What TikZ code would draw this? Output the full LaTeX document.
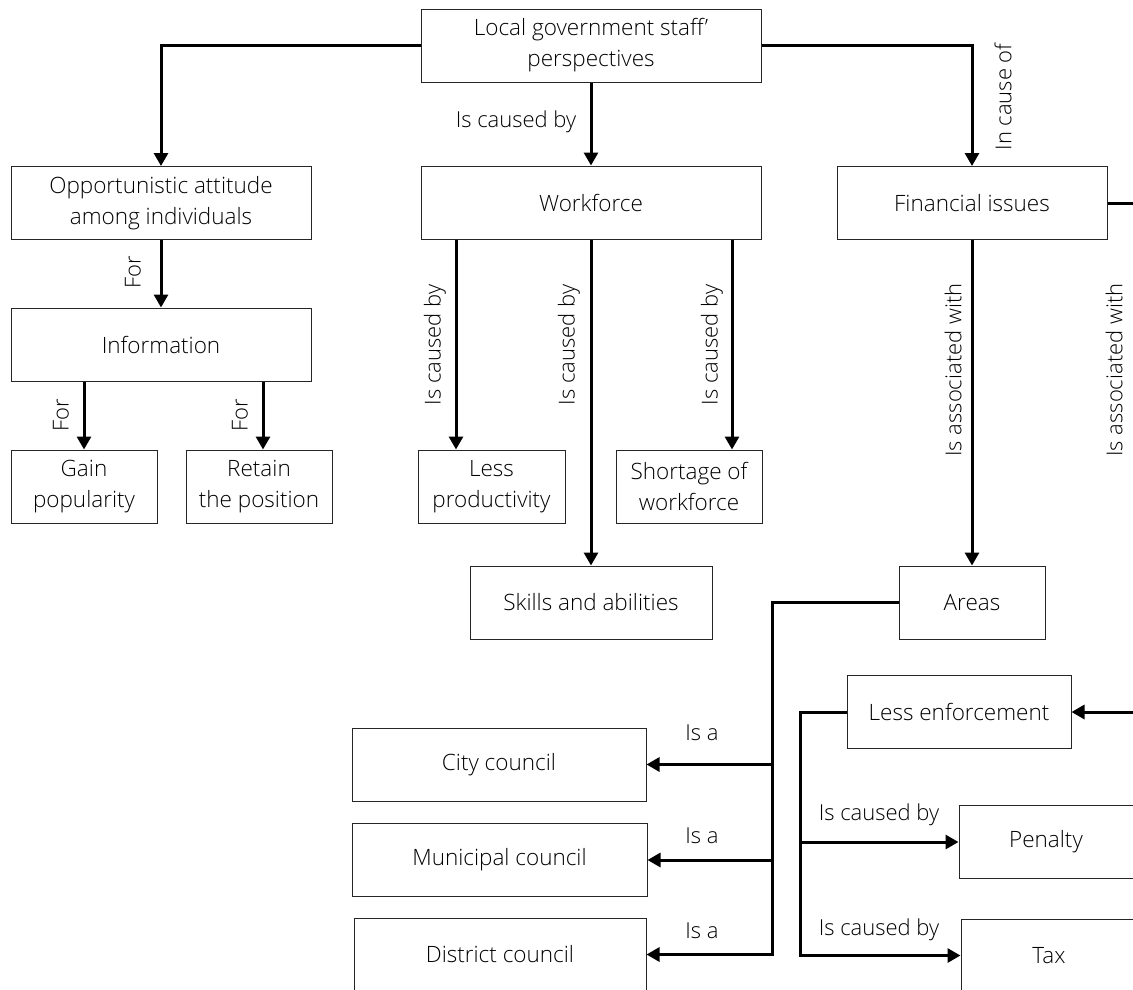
\documentclass[tikz,border=0pt]{standalone}
\usepackage{fontspec}
\setmainfont{Open Sans Light}
\usetikzlibrary{arrows.meta}
\begin{document}
\begin{tikzpicture}[x=1pt,y=-1pt,
  box/.style={draw=black!85, line width=1pt, rectangle, inner sep=0pt, align=center,
    minimum height=73pt, font=\fontsize{22.5}{31}\selectfont},
  conn/.style={line width=3pt},
  arr/.style={conn, -{Triangle[width=14pt,length=13pt]}},
  lbl/.style={font=\fontsize{22}{26}\selectfont, inner sep=0pt},
  vlbl/.style={lbl, rotate=90}]
\useasboundingbox (0,0) rectangle (1133,989);

% boxes
\node[box, minimum width=340pt] (top) at (591,45.5) {Local government staff’\\perspectives};
\node[box, minimum width=300pt] (opp) at (161,203) {Opportunistic attitude\\among individuals};
\node[box, minimum width=300pt] (info) at (161,344.5) {Information};
\node[box, minimum width=146pt] (gain) at (84,486.5) {Gain\\popularity};
\node[box, minimum width=146pt] (retain) at (259,486.5) {Retain\\the position};
\node[box, minimum width=340pt] (work) at (591,202.5) {Workforce};
\node[box, minimum width=147pt] (less) at (491.5,486.5) {Less\\productivity};
\node[box, minimum width=146pt] (short) at (689,486.5) {Shortage of\\workforce};
\node[box, minimum width=242pt] (skills) at (591,602.5) {Skills and abilities};
\node[box, minimum width=270pt] (fin) at (972,203) {Financial issues};
\node[box, minimum width=146pt] (areas) at (972,602.5) {Areas};
\node[box, minimum width=294pt] (city) at (499,764.5) {City council};
\node[box, minimum width=295pt] (muni) at (499.5,860) {Municipal council};
\node[box, minimum width=292pt] (dist) at (500,954.5) {District council};
\node[box, minimum width=224pt] (lenf) at (959,712) {Less enforcement};
\node[box, minimum width=174pt] (pen) at (1046,842) {Penalty};
\node[box, minimum width=176pt] (tax) at (1049,955.5) {Tax};

% helper coordinates
\coordinate (xr) at (263,0);
\coordinate (xl) at (456,0);
\coordinate (xs) at (732,0);
\coordinate (xb) at (772,0);
\coordinate (xc) at (800,0);
\coordinate (xe) at (1160,0);

% connectors
\draw[arr] (top.west) -| (opp.north);
\draw[arr] (top.south) -- (work.north);
\draw[arr] (top.east) -| (fin.north);
\draw[arr] (opp.south) -- (info.north);
\draw[arr] (info.south -| gain.north) -- (gain.north);
\draw[arr] (info.south -| xr) -- (retain.north -| xr);
\draw[arr] (work.south -| xl) -- (less.north -| xl);
\draw[arr] (work.south) -- (skills.north);
\draw[arr] (work.south -| xs) -- (short.north -| xs);
\draw[arr] (fin.south) -- (areas.north);
\draw[arr] (fin.east) -- (fin.east -| xe) |- (lenf.east);
\draw[arr] (areas.west) -| (dist.east -| xb) -- (dist.east);
\draw[arr] (city.east -| xb) -- (city.east);
\draw[arr] (muni.east -| xb) -- (muni.east);
\draw[arr] (lenf.west) -| (tax.west -| xc) -- (tax.west);
\draw[arr] (pen.west -| xc) -- (pen.west);

% labels
\node[lbl] (l1) at (516,122) {Is caused by};
\node[vlbl] (l2) at (1003,97) {In cause of};
\node[vlbl] (l3) at (133,272) {For};
\node[vlbl] (l4) at (61,415) {For};
\node[vlbl] (l5) at (240,415) {For};
\node[vlbl] (l6) at (435,345) {Is caused by};
\node[vlbl] (l7) at (569,345) {Is caused by};
\node[vlbl] (l8) at (712,345) {Is caused by};
\node[vlbl] (l9) at (953,370) {Is associated with};
\node[vlbl] (l10) at (1114,370) {Is associated with};
\node[lbl] (l11) at (702,733) {Is a};
\node[lbl] (l12) at (702,836) {Is a};
\node[lbl] (l13) at (702,931) {Is a};
\node[lbl] (l14) at (879,815) {Is caused by};
\node[lbl] (l15) at (879,930) {Is caused by};
\end{tikzpicture}
\end{document}
